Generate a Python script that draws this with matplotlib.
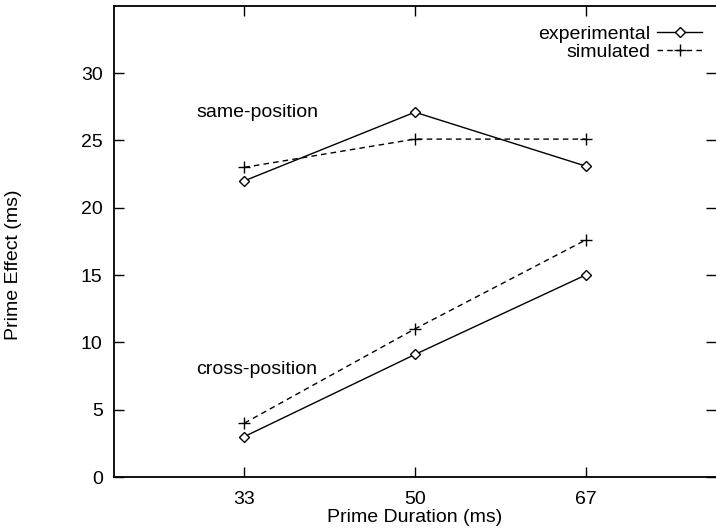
import matplotlib.pyplot as plt

plt.rcParams['font.family'] = ['Liberation Sans', 'DejaVu Sans']

durations = [33, 50, 67]
same_exp = [22, 27.1, 23.1]
same_sim = [23, 25.1, 25.1]
cross_exp = [3, 9.1, 15]
cross_sim = [4, 11, 17.6]
yticks = [0, 5, 10, 15, 20, 25, 30]

fig = plt.figure(figsize=(7.16, 5.30), dpi=100)
ax = fig.add_axes([0.159, 0.1, 0.841, 0.889])

# experimental: solid with open diamonds, simulated: dashed with plus
ax.plot(durations, same_exp, color='black', lw=1, marker='D', ms=5,
        mfc='white', mec='black', mew=1, label='experimental')
ax.plot(durations, same_sim, color='black', lw=1, ls=(0, (4, 3)), marker='+',
        ms=8, mew=1, label='simulated')
ax.plot(durations, cross_exp, color='black', lw=1, marker='D', ms=5,
        mfc='white', mec='black', mew=1)
ax.plot(durations, cross_sim, color='black', lw=1, ls=(0, (4, 3)), marker='+',
        ms=8, mew=1)

ax.text(28.2, 27.1, 'same-position', fontsize=14, va='center', ha='left')
ax.text(28.2, 8.0, 'cross-position', fontsize=14, va='center', ha='left')

ax.set_xlim(20, 80)
ax.set_ylim(0, 35)
ax.set_xticks(durations)
ax.set_yticks(yticks)
ax.tick_params(direction='in', length=7, width=1, labelsize=14,
               top=True, right=True, pad=8)
ax.tick_params(axis='x', pad=10)
ax.spines['right'].set_visible(False)
for s in ['left', 'bottom', 'top']:
    ax.spines[s].set_linewidth(1.3)

ax.set_xlabel('Prime Duration (ms)', fontsize=14, labelpad=1)
ax.set_ylabel('Prime Effect (ms)', fontsize=14)
ax.yaxis.set_label_coords(-0.152, 0.45)

ax.legend(loc='upper right', frameon=False, markerfirst=False, fontsize=14,
          handlelength=2.3, handletextpad=0.35, labelspacing=0.0,
          borderpad=0, borderaxespad=0, bbox_to_anchor=(0.977, 0.958))

fig.savefig('out.png', dpi=100)
